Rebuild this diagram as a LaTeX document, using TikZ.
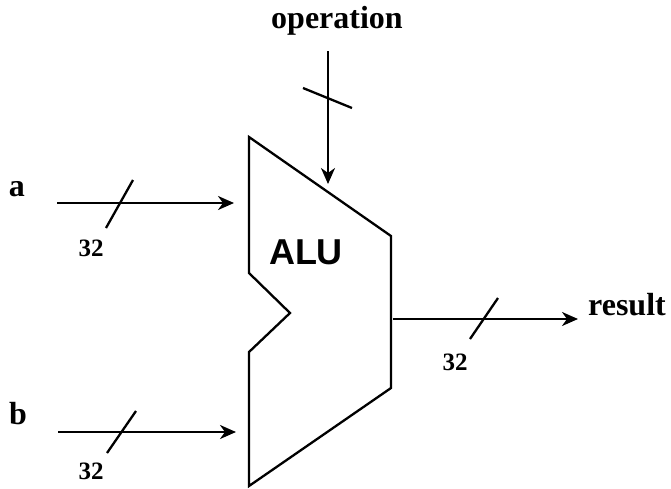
\documentclass[tikz,border=0pt]{standalone}
\usepackage{fontspec}
\setmainfont{Liberation Serif}
\newfontfamily\alufont{Liberation Sans}
\usetikzlibrary{arrows.meta}
\tikzset{
  wire/.style={line width=2.3pt, -{Stealth[length=16pt,width=14pt,inset=5pt]}},
  slash/.style={line width=2.3pt},
  sig/.style={font=\bfseries\fontsize{32}{32}\selectfont, inner sep=0pt},
  bus/.style={font=\bfseries\fontsize{25}{25}\selectfont, inner sep=0pt},
}
\begin{document}
\begin{tikzpicture}[x=1pt,y=-1pt]
\useasboundingbox (0,0) rectangle (671,488);
% ALU body
\draw[line width=2.3pt, line join=miter]
  (249,137) -- (391,236) -- (391,388) -- (249,486) -- (249,352)
  -- (290,313) -- (249,273) -- cycle;
\node[font=\alufont\bfseries\fontsize{36}{36}\selectfont, inner sep=0pt] (alu) at (306,252) {ALU};
% coordinates
\coordinate (aS) at (57,203);   \coordinate (aE) at (234,203);
\coordinate (bS) at (58,432);   \coordinate (bE) at (236,432);
\coordinate (rS) at (393,319);  \coordinate (rE) at (578,319);
\coordinate (oS) at (328,51);   \coordinate (oE) at (328,184);
% labels
\node[sig] (la) at (17,189) {a};
\node[sig] (lb) at (18,414) {b};
\node[sig] (lo) at (337,21) {operation};
\node[sig] (lr) at (627,305) {result};
\node[bus] (n1) at (91,248) {32};
\node[bus] (n2) at (91,471) {32};
\node[bus] (n3) at (455,362) {32};
% wires
\draw[wire] (aS) -- (aE);
\draw[wire] (bS) -- (bE);
\draw[wire] (rS) -- (rE);
\draw[wire] (oS) -- (oE);
% bus slashes
\draw[slash] (106,228) -- (133,180);
\draw[slash] (107,453) -- (136,411);
\draw[slash] (470,339) -- (498,298);
\draw[slash] (303,88) -- (352,108);
\end{tikzpicture}
\end{document}
